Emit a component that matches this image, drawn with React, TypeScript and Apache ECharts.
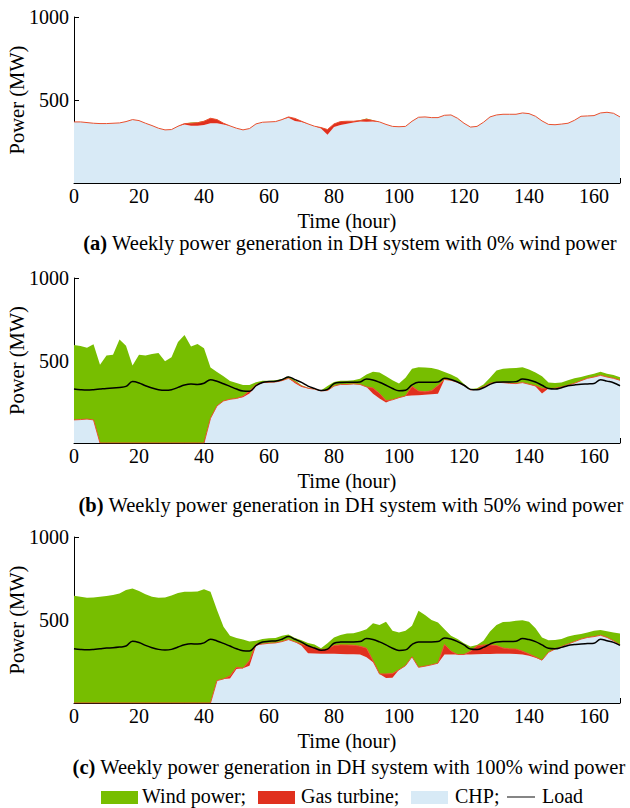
import React, { useEffect, useRef } from 'react';
import * as echarts from 'echarts';

// Time axis (hours), 2-hour sampling
const hours = [
  0, 2, 4, 6, 8, 10, 12, 14, 16, 18, 20, 22, 24, 26, 28, 30, 32, 34, 36, 38,
  40, 42, 44, 46, 48, 50, 52, 54, 56, 58, 60, 62, 64, 66, 68, 70, 72, 74, 76, 78,
  80, 82, 84, 86, 88, 90, 92, 94, 96, 98, 100, 102, 104, 106, 108, 110, 112, 114, 116, 118,
  120, 122, 124, 126, 128, 130, 132, 134, 136, 138, 140, 142, 144, 146, 148, 150, 152, 154, 156, 158,
  160, 162, 164, 166, 168,
];
const xTickLabels = [0, 20, 40, 60, 80, 100, 120, 140, 160];
const yTickLabels = [500, 1000];

// (a) 0% wind power
const chpA = [
  368, 368, 364, 360, 358, 358, 360, 362, 370, 382,
  376, 360, 346, 330, 320, 322, 342, 353, 345, 345,
  350, 360, 360, 352, 344, 330, 320, 328, 356, 366,
  368, 370, 382, 393, 374, 367, 356, 342, 329, 290,
  338, 350, 357, 364, 371, 369, 371, 368, 353, 341,
  339, 341, 372, 396, 398, 394, 394, 408, 410, 390,
  360, 337, 341, 366, 398, 410, 414, 414, 414, 422,
  418, 402, 374, 353, 351, 355, 360, 378, 402, 404,
  406, 422, 426, 420, 398,
];
const gasA = [
  0, 0, 0, 0, 0, 0, 0, 0, 0, 0,
  0, 0, 0, 0, 0, 0, 0, 5, 15, 18,
  22, 30, 22, 8, 0, 0, 0, 0, 0, 0,
  0, 0, 0, 5, 15, 5, 0, 0, 5, 32,
  18, 20, 15, 8, 5, 15, 5, 0, 0, 0,
  0, 0, 0, 0, 0, 0, 0, 0, 0, 0,
  0, 0, 0, 0, 0, 0, 0, 0, 0, 0,
  0, 0, 0, 0, 0, 0, 0, 0, 0, 0,
  0, 0, 0, 0, 0,
];
const windA = [
  0, 0, 0, 0, 0, 0, 0, 0, 0, 0,
  0, 0, 0, 0, 0, 0, 0, 0, 4, 3,
  2, 0, 0, 0, 0, 0, 0, 0, 0, 0,
  0, 0, 0, 0, 0, 0, 0, 0, 0, 0,
  0, 0, 0, 0, 2, 4, 2, 0, 0, 0,
  0, 0, 0, 0, 0, 0, 0, 0, 0, 0,
  0, 0, 0, 0, 0, 0, 0, 0, 0, 0,
  0, 0, 0, 0, 0, 0, 0, 0, 0, 0,
  0, 0, 0, 0, 0,
];

// (b) 50% wind power
const chpB = [
  140, 142, 145, 140, 0, 0, 0, 0, 0, 0,
  0, 0, 0, 0, 0, 0, 0, 0, 0, 0,
  0, 150, 225, 255, 265, 270, 278, 300, 345, 366,
  368, 370, 378, 392, 362, 340, 332, 326, 316, 318,
  345, 355, 355, 358, 355, 340, 298, 270, 245, 262,
  275, 285, 288, 290, 292, 295, 298, 385, 380, 368,
  348, 322, 325, 340, 362, 368, 366, 362, 360, 366,
  356, 342, 300, 330, 332, 340, 350, 362, 378, 392,
  400, 410, 400, 392, 380,
];
const gasB = [
  0, 0, 0, 0, 0, 0, 0, 0, 0, 0,
  0, 0, 0, 0, 0, 0, 0, 0, 0, 0,
  0, 0, 0, 0, 0, 0, 5, 15, 8, 0,
  0, 0, 0, 0, 8, 5, 0, 0, 0, 0,
  0, 0, 0, 0, 0, 0, 35, 30, 12, 0,
  0, 0, 55, 25, 18, 22, 50, 0, 0, 0,
  0, 0, 0, 0, 0, 0, 0, 0, 0, 0,
  0, 5, 30, 0, 0, 0, 0, 0, 0, 0,
  0, 0, 0, 0, 0,
];
const windB = [
  454, 446, 433, 458, 475, 530, 535, 628, 590, 470,
  535, 530, 540, 545, 495, 520, 612, 654, 585, 600,
  575, 308, 205, 150, 111, 94, 69, 37, 15, 11,
  9, 10, 10, 13, 10, 5, 3, 2, 2, 27,
  25, 22, 22, 22, 35, 75, 99, 128, 148, 118,
  85, 110, 107, 144, 147, 137, 97, 45, 35, 27,
  9, 6, 7, 15, 33, 72, 84, 91, 95, 93,
  89, 81, 75, 36, 32, 26, 30, 30, 22, 18,
  20, 22, 20, 20, 18,
];

// (c) 100% wind power
const chpC = [
  0, 0, 0, 0, 0, 0, 0, 0, 0, 0,
  0, 0, 0, 0, 0, 0, 0, 0, 0, 0,
  0, 0, 135, 145, 148, 205, 210, 225, 345, 355,
  360, 362, 370, 382, 368, 345, 300, 298, 296, 296,
  296, 295, 294, 293, 292, 275, 245, 175, 150, 152,
  200, 225, 278, 215, 222, 230, 240, 292, 292, 292,
  292, 292, 294, 295, 295, 296, 296, 296, 295, 292,
  285, 272, 258, 305, 325, 340, 355, 370, 385, 395,
  400, 408, 395, 375, 350,
];
const gasC = [
  0, 0, 0, 0, 0, 0, 0, 0, 0, 0,
  0, 0, 0, 0, 0, 0, 0, 0, 0, 0,
  0, 0, 0, 0, 15, 10, 0, 30, 10, 0,
  0, 0, 0, 0, 0, 10, 40, 35, 25, 30,
  50, 55, 55, 55, 50, 55, 10, 0, 25, 25,
  0, 0, 0, 0, 0, 0, 0, 60, 20, 0,
  0, 20, 50, 55, 55, 50, 35, 30, 30, 20,
  10, 5, 0, 0, 0, 0, 0, 0, 0, 0,
  0, 0, 0, 0, 0,
];
const windC = [
  646, 640, 634, 636, 640, 645, 650, 660, 680, 690,
  675, 655, 640, 634, 635, 648, 662, 670, 670, 672,
  685, 670, 425, 315, 242, 177, 172, 115, 20, 30,
  30, 30, 35, 30, 24, 23, 22, 19, 9, 34,
  49, 60, 69, 72, 88, 115, 225, 295, 315, 258,
  225, 210, 187, 340, 308, 270, 245, 93, 93, 93,
  68, 28, 6, 25, 80, 124, 157, 164, 170, 186,
  195, 173, 137, 73, 55, 45, 45, 40, 30, 30,
  35, 32, 37, 50, 68,
];

// Electric load (panels b and c)
const load = [
  327, 323, 321, 323, 327, 331, 333, 337, 343, 372,
  364, 347, 333, 323, 319, 323, 337, 351, 357, 355,
  362, 384, 374, 359, 343, 327, 315, 313, 347, 367,
  372, 374, 384, 400, 384, 367, 345, 331, 318, 325,
  360, 367, 368, 368, 370, 388, 382, 368, 350, 330,
  317, 320, 352, 368, 368, 368, 370, 392, 385, 370,
  350, 325, 322, 335, 355, 368, 370, 370, 372, 388,
  382, 370, 350, 330, 327, 335, 347, 352, 356, 358,
  360, 384, 375, 365, 347,
];

const captions = [
  { tag: '(a)', text: ' Weekly power generation in DH system with 0% wind power' },
  { tag: '(b)', text: ' Weekly power generation in DH system with 50% wind power' },
  { tag: '(c)', text: ' Weekly power generation in DH system with 100% wind power' },
];
const legendItems = ['Wind power;', 'Gas turbine;', 'CHP;', 'Load'];

const FONT = 'Liberation Serif';
const C_WIND = '#77BE00';
const C_GAS = '#E0301E';
const C_CHP = '#D8EAF6';

export default function App() {
  const ref = useRef<HTMLDivElement>(null);
  useEffect(() => {
    if (!ref.current) return;
    const chart = echarts.init(ref.current, null, { renderer: 'svg' });
    const gridTops = [17, 278, 537];
    const gridH = [166, 165, 166];
    const captionY = [243, 505, 767];
    const captionX = [350, 351, 349];
    const panels = [
      { chp: chpA, gas: gasA, wind: windA, showLoad: false },
      { chp: chpB, gas: gasB, wind: windB, showLoad: true },
      { chp: chpC, gas: gasC, wind: windC, showLoad: true },
    ];
    const last = hours.length - 1;
    const grid = panels.map((_, i) => ({
      left: 74, right: 10, top: gridTops[i], height: gridH[i],
      containLabel: false, outerBoundsMode: 'none',
    }));
    const xAxis = panels.map((_, i) => ({
      type: 'category', gridIndex: i, data: hours.map(String), boundaryGap: false,
      axisLine: { show: true, lineStyle: { color: '#000', width: 1 } },
      axisTick: {
        show: true, inside: true, length: 5, lineStyle: { color: '#000' },
        interval: (idx: number) => xTickLabels.includes(hours[idx]) || idx === last,
      },
      axisLabel: {
        color: '#000', fontFamily: FONT, fontSize: 20, margin: 3,
        interval: (idx: number) => xTickLabels.includes(hours[idx]),
      },
      splitLine: { show: false },
      name: 'Time (hour)', nameLocation: 'middle', nameGap: 27, nameMoveOverlap: false,
      nameTextStyle: { color: '#000', fontFamily: FONT, fontSize: 20.5 },
    }));
    const yAxis = panels.map((_, i) => ({
      type: 'value', gridIndex: i, min: 0, max: 1000, interval: 500,
      axisLine: { show: true, lineStyle: { color: '#000', width: 1 } },
      axisTick: { show: true, inside: true, length: 5, lineStyle: { color: '#000' } },
      axisLabel: {
        color: '#000', fontFamily: FONT, fontSize: 20, margin: 5,
        formatter: (v: number) => (yTickLabels.includes(v) ? String(v) : ''),
      },
      splitLine: { show: false },
      name: 'Power (MW)', nameLocation: 'middle', nameGap: 47, nameRotate: 90, nameMoveOverlap: false,
      nameTextStyle: { color: '#000', fontFamily: FONT, fontSize: 20.5 },
    }));
    const series: any[] = [];
    panels.forEach((p, i) => {
      const common = { type: 'line', xAxisIndex: i, yAxisIndex: i, stack: 'gen' + i, symbol: 'none', showSymbol: false };
      series.push({
        ...common, name: 'CHP;', data: p.chp,
        itemStyle: { color: C_CHP }, lineStyle: { width: 0, color: C_CHP },
        areaStyle: { color: C_CHP, opacity: 1 }, z: 1,
      });
      series.push({
        ...common, name: 'Gas turbine;', data: p.gas,
        itemStyle: { color: C_GAS }, lineStyle: { width: 1, color: '#E8502E' },
        areaStyle: { color: C_GAS, opacity: 1 }, z: 2,
      });
      series.push({
        ...common, name: 'Wind power;', data: p.wind,
        itemStyle: { color: C_WIND }, lineStyle: { width: 0, color: C_WIND },
        areaStyle: { color: C_WIND, opacity: 1 }, z: 1,
      });
      if (p.showLoad) {
        series.push({
          type: 'line', name: 'Load', xAxisIndex: i, yAxisIndex: i, data: load,
          symbol: 'none', showSymbol: false, smooth: 0.4,
          itemStyle: { color: '#000' }, lineStyle: { width: 1.5, color: '#000' }, z: 5,
        });
      }
    });
    const graphic: any[] = captions.map((c, i) => ({
      type: 'text', x: captionX[i], y: captionY[i],
      style: {
        text: '{b|' + c.tag + '}' + c.text,
        fill: '#000', fontFamily: FONT, fontSize: 20.5,
        align: 'center', verticalAlign: 'middle',
        rich: { b: { fontWeight: 'bold', fontFamily: FONT, fontSize: 20.5, fill: '#000' } },
      },
    }));
    // legend (drawn as graphics to match the reference layout)
    const ly = 796;
    const boxes = [
      { x: 101, color: C_WIND, textX: 142 },
      { x: 258, color: C_GAS, textX: 301 },
      { x: 411, color: C_CHP, textX: 455 },
    ];
    boxes.forEach((b, i) => {
      graphic.push({ type: 'rect', shape: { x: b.x, y: ly - 5, width: 37, height: 13 }, style: { fill: b.color } });
      graphic.push({
        type: 'text', x: b.textX, y: ly,
        style: { text: legendItems[i], fill: '#000', fontFamily: FONT, fontSize: 20, align: 'left', verticalAlign: 'middle' },
      });
    });
    graphic.push({ type: 'line', shape: { x1: 507, y1: ly + 1, x2: 535, y2: ly + 1 }, style: { stroke: '#333', lineWidth: 1.2 } });
    graphic.push({
      type: 'text', x: 542, y: ly,
      style: { text: legendItems[3], fill: '#000', fontFamily: FONT, fontSize: 20, align: 'left', verticalAlign: 'middle' },
    });
    chart.setOption({
      animation: false,
      backgroundColor: '#fff',
      grid, xAxis, yAxis, series, graphic,
    });
    return () => chart.dispose();
  }, []);
  return (
    <div
      ref={ref}
      style={{ position: 'absolute', left: 0, top: 0, width: 630, height: 808, background: '#fff' }}
    />
  );
}
